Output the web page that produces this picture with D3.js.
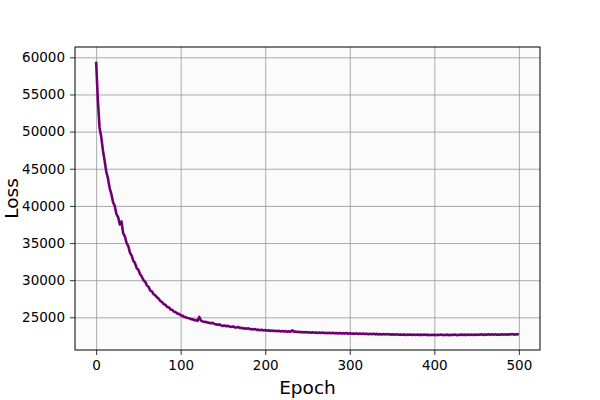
<!DOCTYPE html>
<html><head><meta charset="utf-8">
<script src="https://cdn.jsdelivr.net/npm/d3@7"></script>
<style>body{margin:0;background:#fff}svg{display:block}text{font-family:"DejaVu Sans",sans-serif}</style>
</head><body><svg id="c" width="600" height="400"></svg>
<script>
const epochs = d3.range(0, 501, 2);
const loss = [
59400,54300,50600,49300,47500,46100,44600,43700,42400,41600,
40500,40000,38900,38500,37500,37900,36300,35900,35000,34600,
33700,33300,32600,32300,31600,31400,30800,30500,30000,29800,
29300,29100,28600,28500,28100,27950,27700,27500,27200,27050,
26750,26700,26400,26350,26050,26000,25750,25700,25500,25480,
25250,25230,25050,25030,24900,24880,24750,24740,24620,24640,
24520,25050,24550,24450,24400,24350,24300,24250,24200,24250,
24100,24050,24000,24050,23900,23850,23900,23800,23850,23750,
23700,23780,23650,23620,23700,23560,23600,23500,23530,23450,
23520,23400,23430,23360,23420,23300,23340,23250,23320,23230,
23280,23200,23250,23170,23230,23150,23200,23130,23180,23100,
23160,23090,23140,23060,23120,23040,23250,23050,23100,23000,
23060,22980,23030,22960,23010,22950,23000,22930,22990,22920,
22970,22900,22950,22880,22960,22870,22930,22860,22910,22850,
22920,22840,22890,22830,22900,22820,22870,22810,22880,22790,
22850,22780,22830,22770,22840,22760,22810,22750,22820,22740,
22800,22730,22790,22720,22780,22710,22770,22700,22760,22690,
22750,22680,22740,22690,22730,22670,22720,22660,22710,22650,
22700,22640,22700,22630,22690,22640,22700,22620,22680,22630,
22690,22620,22670,22610,22680,22620,22670,22600,22660,22610,
22670,22600,22660,22620,22680,22600,22660,22610,22670,22600,
22650,22610,22680,22600,22660,22620,22700,22610,22670,22620,
22690,22610,22680,22630,22700,22620,22690,22640,22720,22630,
22700,22650,22730,22640,22710,22660,22720,22650,22700,22660,
22720,22650,22710,22660,22730,22680,22740,22670,22730,22690,
22780
];
const xTicks = [0, 100, 200, 300, 400, 500];
const yTicks = [25000, 30000, 35000, 40000, 45000, 50000, 55000, 60000];
const xLabel = "Epoch", yLabel = "Loss";

const svg = d3.select("#c");
const L = 75, R = 540, T = 47, B = 350;
const x = d3.scaleLinear().domain([-25, 525]).range([L, R]);
const y = d3.scaleLinear().domain([20600, 61390]).range([B, T]);

svg.append("rect").attr("x", L).attr("y", T).attr("width", R - L).attr("height", B - T).attr("fill", "#fbfbfb");

// grid
const gx = svg.append("g").attr("transform", `translate(0,${B})`)
  .call(d3.axisBottom(x).tickValues(xTicks).tickSize(-(B - T)).tickFormat(""));
const gy = svg.append("g").attr("transform", `translate(${L},0)`)
  .call(d3.axisLeft(y).tickValues(yTicks).tickSize(-(R - L)).tickFormat(""));
[gx, gy].forEach(g => { g.select(".domain").remove(); g.selectAll("line").attr("stroke", "#a0a0a0").attr("stroke-width", 0.9); });

const data = epochs.map((e, i) => [e, loss[i]]);
const line = d3.line().x(d => x(d[0])).y(d => y(d[1]));
svg.append("path").datum(data).attr("d", line).attr("fill", "none").attr("stroke", "#800080").attr("stroke-width", 2.6).attr("stroke-linejoin", "round");
svg.append("path").datum(data).attr("d", line).attr("fill", "none").attr("stroke", "#3a0a48").attr("stroke-width", 1.1).attr("opacity", 0.55);

// axes
const ax = svg.append("g").attr("transform", `translate(0,${B})`)
  .call(d3.axisBottom(x).tickValues(xTicks).tickSize(5).tickPadding(5).tickFormat(d3.format("d")));
const ay = svg.append("g").attr("transform", `translate(${L},0)`)
  .call(d3.axisLeft(y).tickValues(yTicks).tickSize(5).tickPadding(5).tickFormat(d3.format("d")));
[ax, ay].forEach(g => {
  g.select(".domain").remove();
  g.selectAll("line").attr("stroke", "#000").attr("stroke-width", 0.8);
  g.selectAll("text").attr("font-size", 13.5).attr("fill", "#000").attr("font-family", "DejaVu Sans");
});
svg.append("rect").attr("x", L).attr("y", T).attr("width", R - L).attr("height", B - T)
  .attr("fill", "none").attr("stroke", "#000").attr("stroke-width", 1);

svg.append("text").attr("x", (L + R) / 2).attr("y", 394).attr("text-anchor", "middle")
  .attr("font-size", 18.5).text(xLabel);
svg.append("text").attr("transform", `translate(18,${(T + B) / 2}) rotate(-90)`).attr("text-anchor", "middle")
  .attr("font-size", 18.5).text(yLabel);
</script></body></html>
